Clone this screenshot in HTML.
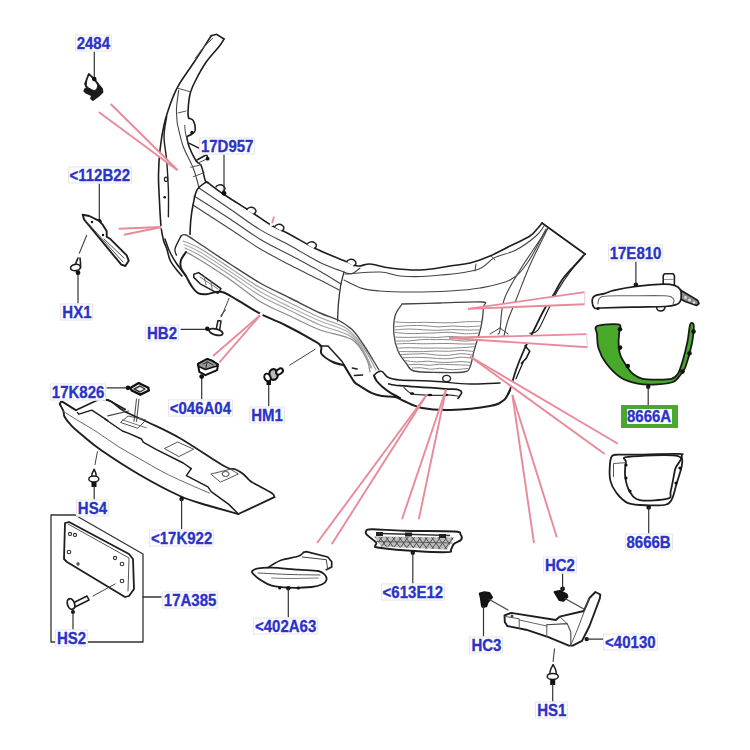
<!DOCTYPE html>
<html><head><meta charset="utf-8"><style>
html,body{margin:0;padding:0;background:#fff;width:750px;height:750px;overflow:hidden}
svg{position:absolute;left:0;top:0}
.lb,.lb2{position:absolute;font:bold 15px/15px "Liberation Sans",sans-serif;color:#2a33c6;white-space:nowrap;letter-spacing:0;transform:scaleY(1.07);-webkit-text-stroke:0.3px #2a33c6}
.lb{padding:1px 1px 0px 1px;line-height:13px;border:1px solid #e6e6ee;background:#fdfdff}
.gbox{position:absolute;left:621px;top:405.4px;width:45px;height:14.4px;border:solid #4aa82c;border-width:4px 6px;background:#fff}
</style></head><body>
<svg width="750" height="750" viewBox="0 0 750 750">
<path d="M211.3,35.7 C208.4,40.1 199.6,53.9 194.0,62.3 C188.4,70.7 182.0,79.2 178.0,86.3 C174.0,93.4 172.3,98.5 170.0,105.0 C167.7,111.5 165.7,117.5 164.0,125.0 C162.3,132.5 160.9,141.7 160.0,150.0 C159.1,158.3 158.6,166.0 158.5,175.0 C158.4,184.0 159.2,195.2 159.6,204.0 C160.0,212.8 160.5,221.9 161.2,228.0 C161.9,234.1 162.7,237.3 163.6,240.8 C164.5,244.3 165.7,245.6 166.8,248.8 C167.9,252.0 168.4,256.5 170.0,260.0 C171.6,263.5 174.4,266.9 176.4,269.6 C178.4,272.3 181.1,274.9 182.0,276.0" fill="none" stroke="#1e1e1e" stroke-width="1.6" stroke-linejoin="round" stroke-linecap="round"/>
<path d="M211.3,35.7 L216.7,34.3 L224.0,39.0" fill="none" stroke="#1e1e1e" stroke-width="1.6" stroke-linejoin="round" stroke-linecap="round"/>
<path d="M224.0,39.0 C223.2,40.2 222.3,42.4 219.3,46.3 C216.3,50.2 210.0,56.5 206.0,62.3 C202.0,68.1 198.0,75.7 195.3,81.0 C192.6,86.3 191.2,89.2 190.0,94.3 C188.8,99.4 188.2,107.7 188.0,111.7 C187.8,115.7 188.6,117.2 188.7,118.3" fill="none" stroke="#1e1e1e" stroke-width="1.6" stroke-linejoin="round" stroke-linecap="round"/>
<path d="M212.7,38.3 C211.1,39.9 205.9,44.7 203.0,48.0 C200.1,51.3 196.6,56.6 195.3,58.3" fill="none" stroke="#555" stroke-width="1.0" stroke-linejoin="round" stroke-linecap="round"/>
<path d="M178.7,90.3 C178.3,93.2 176.8,103.0 176.5,108.0 C176.2,113.0 176.8,116.9 177.0,120.0 C177.2,123.1 176.9,122.2 178.0,126.7 C179.1,131.2 180.9,140.0 183.3,146.7 C185.8,153.4 190.4,161.1 192.7,166.7 C195.0,172.2 195.9,176.4 197.0,180.0 C198.1,183.6 198.7,186.7 199.0,188.0" fill="none" stroke="#444" stroke-width="1.1" stroke-linejoin="round" stroke-linecap="round"/>
<path d="M178.0,88.3 L190.0,91.7" fill="none" stroke="#555" stroke-width="1.0" stroke-linejoin="round" stroke-linecap="round"/>
<path d="M178.0,113.0 L186.0,111.0" fill="none" stroke="#555" stroke-width="1.0" stroke-linejoin="round" stroke-linecap="round"/>
<path d="M188.7,118.3 C189.5,118.7 192.2,118.8 193.3,120.7 C194.4,122.7 195.5,127.8 195.3,130.0 C195.1,132.2 193.4,132.9 192.0,134.0 C190.6,135.1 187.6,136.2 186.7,136.7" fill="none" stroke="#1e1e1e" stroke-width="1.6" stroke-linejoin="round" stroke-linecap="round"/>
<path d="M186.7,136.7 C187.1,138.5 187.8,143.3 189.3,147.3 C190.9,151.3 194.0,157.6 196.0,160.7 C198.0,163.8 199.8,162.7 201.3,166.0 C202.9,169.3 204.2,177.9 205.3,180.7 C206.4,183.5 207.6,182.4 208.0,182.7" fill="none" stroke="#1e1e1e" stroke-width="1.6" stroke-linejoin="round" stroke-linecap="round"/>
<path d="M189.3,143.3 L200.0,148.7" fill="none" stroke="#1e1e1e" stroke-width="1.4" stroke-linejoin="round" stroke-linecap="round"/>
<path d="M197.0,160.0 L206.7,154.5 L208.0,159.3" fill="none" stroke="#1e1e1e" stroke-width="1.5" stroke-linejoin="round" stroke-linecap="round"/>
<path d="M198.0,163.0 L207.6,158.7" fill="none" stroke="#555" stroke-width="1.0" stroke-linejoin="round" stroke-linecap="round"/>
<circle cx="207.6" cy="158.7" r="1.9" fill="#111"/>
<path d="M184.7,125.3 C184.8,126.6 185.1,130.6 185.5,133.0 C185.9,135.4 187.0,138.8 187.3,140.0" fill="none" stroke="#444" stroke-width="1.0" stroke-linejoin="round" stroke-linecap="round"/>
<circle cx="192" cy="132.5" r="1.7" fill="#111"/>
<path d="M190.7,167.3 L201.3,164.7" fill="none" stroke="#555" stroke-width="1.0" stroke-linejoin="round" stroke-linecap="round"/>
<path d="M193.3,176.7 L204.0,172.7" fill="none" stroke="#555" stroke-width="1.0" stroke-linejoin="round" stroke-linecap="round"/>
<path d="M166.7,116.7 C166.2,120.0 164.0,129.4 164.0,136.7 C164.0,144.0 166.0,151.8 166.7,160.7 C167.4,169.6 168.1,180.7 168.4,190.0 C168.7,199.3 168.4,212.3 168.4,216.8" fill="none" stroke="#1e1e1e" stroke-width="1.4" stroke-linejoin="round" stroke-linecap="round"/>
<ellipse cx="166" cy="179.3" rx="1.6" ry="2.2" fill="none" stroke="#222" stroke-width="1.2"/>
<circle cx="164.7" cy="197.3" r="1.3" fill="#111"/>
<path d="M208.0,182.7 C210.8,184.8 217.7,190.3 224.7,195.0 C231.7,199.7 242.4,206.1 250.0,211.0 C257.6,215.9 263.3,220.6 270.0,224.5 C276.7,228.4 282.4,230.5 290.0,234.5 C297.6,238.5 306.0,244.0 315.3,248.5 C324.6,253.0 338.9,258.6 346.0,261.5 C353.1,264.4 354.0,265.6 358.0,266.0 C362.0,266.4 364.7,263.7 370.0,264.0 C375.3,264.3 381.7,267.0 390.0,268.0 C398.3,269.0 410.0,270.3 420.0,270.0 C430.0,269.7 441.7,267.2 450.0,266.0 C458.3,264.8 463.3,264.7 470.0,263.0 C476.7,261.3 483.3,258.8 490.0,256.0 C496.7,253.2 503.3,249.3 510.0,246.0 C516.7,242.7 525.3,239.0 530.0,236.0 C534.7,233.0 536.0,230.2 538.0,228.0 C540.0,225.8 541.3,223.8 542.0,223.0" fill="none" stroke="#1e1e1e" stroke-width="1.6" stroke-linejoin="round" stroke-linecap="round"/>
<path d="M542.0,223.0 L585.0,254.0" fill="none" stroke="#1e1e1e" stroke-width="1.8" stroke-linejoin="round" stroke-linecap="round"/>
<path d="M585.0,254.0 C583.2,256.0 577.8,261.7 574.0,266.0 C570.2,270.3 565.3,275.3 562.0,280.0 C558.7,284.7 557.0,289.0 554.0,294.0 C551.0,299.0 547.3,304.0 544.0,310.0 C540.7,316.0 537.3,323.3 534.0,330.0 C530.7,336.7 527.0,343.3 524.0,350.0 C521.0,356.7 518.3,363.3 516.0,370.0 C513.7,376.7 511.3,386.0 510.0,390.0 C508.7,394.0 508.3,393.3 508.0,394.0" fill="none" stroke="#1e1e1e" stroke-width="1.8" stroke-linejoin="round" stroke-linecap="round"/>
<path d="M582.0,258.0 C580.0,260.3 574.0,266.7 570.0,272.0 C566.0,277.3 561.7,283.7 558.0,290.0 C554.3,296.3 551.3,303.3 548.0,310.0 C544.7,316.7 541.0,326.1 538.0,330.0 C535.0,333.9 531.2,332.7 529.8,333.2" fill="none" stroke="#1e1e1e" stroke-width="1.2" stroke-linejoin="round" stroke-linecap="round"/>
<path d="M525.0,345.8 L529.8,351.2 L526.2,358.4 L521.4,363.2" fill="none" stroke="#1e1e1e" stroke-width="1.6" stroke-linejoin="round" stroke-linecap="round"/>
<path d="M523.2,362.0 L516.0,378.8" fill="none" stroke="#1e1e1e" stroke-width="1.3" stroke-linejoin="round" stroke-linecap="round"/>
<path d="M215.5,187.5 C217.0,184.5 221.0,184.0 223.5,186.0 C226.0,188.0 225.0,190.5 222.5,191.5" fill="#fff" stroke="#1e1e1e" stroke-width="1.5"/>
<path d="M246.5,210.0 C248.0,207.0 252.0,206.5 254.5,208.5 C257.0,210.5 256.0,213.0 253.5,214.0" fill="#fff" stroke="#1e1e1e" stroke-width="1.5"/>
<path d="M274.5,227.0 C276.0,224.0 280.0,223.5 282.5,225.5 C285.0,227.5 284.0,230.0 281.5,231.0" fill="#fff" stroke="#1e1e1e" stroke-width="1.5"/>
<path d="M307.0,244.5 C308.5,241.5 312.5,241.0 315.0,243.0 C317.5,245.0 316.5,247.5 314.0,248.5" fill="#fff" stroke="#1e1e1e" stroke-width="1.5"/>
<path d="M346.5,262.0 C348.0,259.0 352.0,258.5 354.5,260.5 C357.0,262.5 356.0,265.0 353.5,266.0" fill="#fff" stroke="#1e1e1e" stroke-width="1.5"/>
<path d="M199.0,188.0 C204.2,191.5 219.8,202.1 230.0,209.0 C240.2,215.9 250.0,223.5 260.0,229.6 C270.0,235.7 280.0,240.0 290.0,245.5 C300.0,251.0 311.0,258.0 320.0,262.4 C329.0,266.8 338.7,270.1 344.0,272.0 C349.3,273.9 349.3,274.3 352.0,273.6 C354.7,272.9 358.7,268.9 360.0,268.0" fill="none" stroke="#444" stroke-width="1.1" stroke-linejoin="round" stroke-linecap="round"/>
<path d="M345.0,274.0 C350.8,273.7 370.8,271.7 380.0,272.0 C389.2,272.3 391.7,275.3 400.0,276.0 C408.3,276.7 417.3,277.0 430.0,276.0 C442.7,275.0 465.3,273.0 476.0,270.0 C486.7,267.0 487.3,261.3 494.0,258.0 C500.7,254.7 509.0,253.7 516.0,250.0 C523.0,246.3 531.3,240.0 536.0,236.0 C540.7,232.0 542.7,227.7 544.0,226.0" fill="none" stroke="#444" stroke-width="1.1" stroke-linejoin="round" stroke-linecap="round"/>
<path d="M194.0,196.0 C200.0,199.8 219.0,211.8 230.0,219.0 C241.0,226.2 250.0,233.2 260.0,239.2 C270.0,245.2 280.0,249.7 290.0,255.0 C300.0,260.3 311.5,266.4 320.0,271.2 C328.5,276.0 337.5,281.9 341.0,284.0" fill="none" stroke="#444" stroke-width="1.1" stroke-linejoin="round" stroke-linecap="round"/>
<path d="M344.0,280.0 C347.0,281.4 356.0,286.6 362.0,288.4 C368.0,290.2 372.0,290.4 380.0,291.0 C388.0,291.6 398.3,292.0 410.0,292.0 C421.7,292.0 438.3,291.7 450.0,291.0 C461.7,290.3 470.0,289.8 480.0,288.0 C490.0,286.2 502.0,284.3 510.0,280.0 C518.0,275.7 522.0,270.5 528.0,262.0 C534.0,253.5 543.0,234.5 546.0,229.0" fill="none" stroke="#444" stroke-width="1.1" stroke-linejoin="round" stroke-linecap="round"/>
<path d="M193.0,205.0 C199.2,209.0 218.8,221.7 230.0,229.0 C241.2,236.3 250.0,242.8 260.0,248.8 C270.0,254.8 280.0,259.8 290.0,265.0 C300.0,270.2 311.8,275.8 320.0,280.0 C328.2,284.2 335.8,288.3 339.0,290.0" fill="none" stroke="#444" stroke-width="1.1" stroke-linejoin="round" stroke-linecap="round"/>
<path d="M206.8,181.6 C205.2,182.9 199.5,185.9 197.2,189.6 C194.9,193.3 194.3,198.9 193.2,204.0 C192.1,209.1 191.3,214.9 190.8,220.0 C190.3,225.1 190.1,232.0 190.0,234.4" fill="none" stroke="#1e1e1e" stroke-width="1.6" stroke-linejoin="round" stroke-linecap="round"/>
<path d="M344.0,272.0 C343.5,274.1 341.7,279.5 340.8,284.8 C339.9,290.1 338.9,298.0 338.4,304.0 C337.9,310.0 337.7,318.2 337.6,321.0" fill="none" stroke="#333" stroke-width="1.3" stroke-linejoin="round" stroke-linecap="round"/>
<path d="M475.0,271.0 L476.0,264.0" fill="none" stroke="#444" stroke-width="1.0" stroke-linejoin="round" stroke-linecap="round"/>
<path d="M491.0,256.0 L495.0,260.0" fill="none" stroke="#444" stroke-width="1.0" stroke-linejoin="round" stroke-linecap="round"/>
<path d="M548.0,228.0 C543.3,235.0 527.3,258.0 520.0,270.0 C512.7,282.0 507.3,290.0 504.0,300.0 C500.7,310.0 501.0,324.3 500.0,330.0 C499.0,335.7 498.3,333.3 498.0,334.0" fill="none" stroke="#444" stroke-width="1.1" stroke-linejoin="round" stroke-linecap="round"/>
<path d="M548.0,228.0 C545.0,234.2 535.3,253.0 530.0,265.0 C524.7,277.0 519.7,290.8 516.0,300.0 C512.3,309.2 510.0,314.0 508.0,320.0 C506.0,326.0 504.7,333.3 504.0,336.0" fill="none" stroke="#444" stroke-width="1.1" stroke-linejoin="round" stroke-linecap="round"/>
<path d="M500.0,328.0 L490.0,334.0" fill="none" stroke="#444" stroke-width="1.0" stroke-linejoin="round" stroke-linecap="round"/>
<path d="M500.0,328.0 L508.0,334.0" fill="none" stroke="#444" stroke-width="1.0" stroke-linejoin="round" stroke-linecap="round"/>
<path d="M402.0,304.0 C408.3,303.8 426.7,303.3 440.0,303.0 C453.3,302.7 474.8,301.3 482.0,302.0 C489.2,302.7 483.7,302.8 483.5,307.0 C483.3,311.2 482.6,319.7 481.0,327.0 C479.4,334.3 475.8,344.3 474.0,351.0 C472.2,357.7 471.7,363.5 470.0,367.0 C468.3,370.5 469.0,371.1 464.0,372.0 C459.0,372.9 448.3,372.7 440.0,372.5 C431.7,372.3 419.7,372.6 414.0,371.0 C408.3,369.4 408.7,366.3 406.0,363.0 C403.3,359.7 400.0,355.7 398.0,351.0 C396.0,346.3 394.5,340.8 394.0,335.0 C393.5,329.2 393.7,321.2 395.0,316.0 C396.3,310.8 400.8,306.0 402.0,304.0" fill="none" stroke="#444" stroke-width="1.3" stroke-linejoin="round" stroke-linecap="round"/>
<path d="M395.6,322.0 C398.0,322.1 405.1,322.6 409.8,322.6 C414.5,322.7 419.2,322.3 423.9,322.3 C428.6,322.3 433.4,322.6 438.1,322.7 C442.8,322.8 447.5,322.9 452.2,322.7 C456.9,322.5 461.7,321.9 466.4,321.7 C471.1,321.5 478.1,321.6 480.5,321.6" fill="none" stroke="#8a8a8a" stroke-width="1.0" stroke-linejoin="round" stroke-linecap="round"/>
<path d="M395.4,326.7 C397.8,326.5 404.9,325.8 409.6,325.6 C414.3,325.4 419.1,325.4 423.8,325.6 C428.5,325.8 433.3,326.8 438.0,326.9 C442.7,327.0 447.4,326.0 452.1,326.0 C456.8,326.0 461.6,326.7 466.3,326.7 C471.0,326.7 478.1,326.1 480.5,326.0" fill="none" stroke="#8a8a8a" stroke-width="1.0" stroke-linejoin="round" stroke-linecap="round"/>
<path d="M395.3,329.9 C397.6,329.8 404.6,329.0 409.3,329.0 C414.0,329.0 418.7,329.6 423.4,329.8 C428.1,330.0 432.8,330.3 437.5,330.3 C442.2,330.3 446.9,329.7 451.6,329.6 C456.3,329.6 461.0,329.9 465.7,330.0 C470.4,330.1 477.4,329.9 479.7,329.9" fill="none" stroke="#8a8a8a" stroke-width="1.0" stroke-linejoin="round" stroke-linecap="round"/>
<path d="M395.1,332.4 C397.4,332.6 404.4,333.5 409.0,333.6 C413.6,333.8 418.4,333.4 423.0,333.3 C427.6,333.2 432.3,333.0 436.9,332.8 C441.5,332.6 446.1,332.1 450.8,332.3 C455.5,332.5 460.2,333.7 464.8,333.8 C469.4,333.9 476.4,333.2 478.7,333.1" fill="none" stroke="#8a8a8a" stroke-width="1.0" stroke-linejoin="round" stroke-linecap="round"/>
<path d="M394.9,337.1 C397.2,337.2 404.1,337.4 408.7,337.4 C413.3,337.4 417.9,337.1 422.5,337.1 C427.1,337.1 431.7,337.6 436.3,337.5 C440.9,337.4 445.5,336.6 450.1,336.5 C454.7,336.4 459.3,337.2 463.9,337.2 C468.5,337.2 475.4,336.7 477.7,336.6" fill="none" stroke="#8a8a8a" stroke-width="1.0" stroke-linejoin="round" stroke-linecap="round"/>
<path d="M395.8,341.0 C398.1,341.0 404.8,341.1 409.3,340.9 C413.8,340.6 418.3,339.7 422.8,339.5 C427.3,339.3 431.7,339.6 436.2,339.6 C440.7,339.6 445.2,339.4 449.7,339.7 C454.2,339.9 458.7,341.0 463.2,341.1 C467.7,341.2 474.4,340.3 476.7,340.1" fill="none" stroke="#8a8a8a" stroke-width="1.0" stroke-linejoin="round" stroke-linecap="round"/>
<path d="M396.7,344.0 C398.9,343.9 405.5,343.4 409.9,343.4 C414.3,343.4 418.6,343.8 423.0,343.8 C427.4,343.8 431.8,343.7 436.2,343.6 C440.6,343.6 444.9,343.4 449.3,343.5 C453.7,343.6 458.1,343.9 462.5,344.0 C466.9,344.1 473.4,344.0 475.6,344.0" fill="none" stroke="#8a8a8a" stroke-width="1.0" stroke-linejoin="round" stroke-linecap="round"/>
<path d="M397.6,348.1 C399.7,348.0 406.1,347.7 410.4,347.7 C414.7,347.7 419.0,348.1 423.3,348.1 C427.6,348.2 431.8,348.0 436.1,348.0 C440.4,348.0 444.6,348.2 448.9,348.2 C453.2,348.1 457.5,347.9 461.8,347.7 C466.1,347.4 472.5,346.9 474.6,346.7" fill="none" stroke="#8a8a8a" stroke-width="1.0" stroke-linejoin="round" stroke-linecap="round"/>
<path d="M398.5,351.5 C400.6,351.5 406.8,351.7 411.0,351.7 C415.2,351.7 419.3,351.7 423.5,351.6 C427.7,351.5 431.8,351.1 436.0,351.0 C440.2,350.9 444.3,351.4 448.5,351.3 C452.7,351.2 456.9,350.4 461.1,350.4 C465.3,350.4 471.5,351.3 473.6,351.5" fill="none" stroke="#8a8a8a" stroke-width="1.0" stroke-linejoin="round" stroke-linecap="round"/>
<path d="M400.8,354.6 C402.8,354.5 408.8,354.2 412.8,354.1 C416.8,354.0 420.8,353.5 424.8,353.7 C428.8,353.9 432.7,354.8 436.7,355.1 C440.7,355.4 444.7,355.5 448.7,355.3 C452.7,355.1 456.7,353.8 460.7,353.7 C464.7,353.6 470.6,354.8 472.6,355.0" fill="none" stroke="#8a8a8a" stroke-width="1.0" stroke-linejoin="round" stroke-linecap="round"/>
<path d="M403.2,357.8 C405.1,357.7 410.8,357.4 414.6,357.4 C418.4,357.4 422.2,357.4 426.0,357.6 C429.8,357.8 433.7,358.3 437.5,358.5 C441.3,358.7 445.1,358.9 448.9,358.7 C452.7,358.5 456.5,357.3 460.3,357.2 C464.1,357.1 469.9,358.0 471.8,358.2" fill="none" stroke="#8a8a8a" stroke-width="1.0" stroke-linejoin="round" stroke-linecap="round"/>
<path d="M405.6,360.7 C407.4,360.9 412.9,361.8 416.5,361.9 C420.1,362.0 423.7,361.1 427.3,361.2 C430.9,361.2 434.6,362.0 438.2,362.2 C441.8,362.4 445.5,362.5 449.1,362.4 C452.7,362.3 456.4,361.6 460.0,361.6 C463.6,361.6 469.1,362.3 470.9,362.4" fill="none" stroke="#8a8a8a" stroke-width="1.0" stroke-linejoin="round" stroke-linecap="round"/>
<path d="M408.6,364.8 C410.3,364.7 415.4,364.2 418.8,364.3 C422.2,364.4 425.7,365.3 429.1,365.3 C432.5,365.3 435.9,364.4 439.3,364.3 C442.7,364.2 446.1,364.5 449.5,364.6 C452.9,364.7 456.3,364.8 459.7,364.9 C463.1,365.0 468.3,365.2 470.0,365.3" fill="none" stroke="#8a8a8a" stroke-width="1.0" stroke-linejoin="round" stroke-linecap="round"/>
<path d="M412.1,368.0 C413.7,368.0 418.3,367.6 421.4,367.8 C424.5,368.0 427.5,369.2 430.6,369.3 C433.7,369.4 436.7,368.3 439.8,368.3 C442.9,368.3 446.0,369.3 449.1,369.5 C452.2,369.7 455.2,369.6 458.3,369.4 C461.4,369.2 466.0,368.6 467.5,368.4" fill="none" stroke="#8a8a8a" stroke-width="1.0" stroke-linejoin="round" stroke-linecap="round"/>
<path d="M181.0,236.0 C181.8,235.8 182.8,233.7 186.0,235.0 C189.2,236.3 192.7,239.2 200.0,244.0 C207.3,248.8 220.0,257.5 230.0,264.0 C240.0,270.5 250.0,277.3 260.0,283.0 C270.0,288.7 280.0,293.0 290.0,298.0 C300.0,303.0 312.0,309.3 320.0,313.0 C328.0,316.7 332.7,317.2 338.0,320.0 C343.3,322.8 347.8,325.6 352.0,329.6 C356.2,333.6 359.5,338.9 363.0,344.0 C366.5,349.1 370.3,355.7 373.0,360.0 C375.7,364.3 378.0,368.3 379.0,370.0" fill="none" stroke="#444" stroke-width="1.4" stroke-linejoin="round" stroke-linecap="round"/>
<path d="M183.0,241.0 C185.8,242.2 192.2,244.0 200.0,248.5 C207.8,253.0 220.0,261.5 230.0,268.0 C240.0,274.5 250.0,281.8 260.0,287.6 C270.0,293.4 280.0,298.0 290.0,303.0 C300.0,308.0 310.8,313.4 320.0,317.5 C329.2,321.6 338.7,323.8 345.0,327.5 C351.3,331.2 354.2,335.4 358.0,340.0 C361.8,344.6 365.0,350.0 368.0,355.0 C371.0,360.0 374.7,367.5 376.0,370.0" fill="none" stroke="#a0a0a0" stroke-width="1.2" stroke-linejoin="round" stroke-linecap="round"/>
<path d="M184.0,244.5 C186.7,245.8 192.3,247.5 200.0,252.0 C207.7,256.5 220.0,264.9 230.0,271.5 C240.0,278.1 250.0,285.6 260.0,291.5 C270.0,297.4 280.0,302.1 290.0,307.0 C300.0,311.9 310.3,316.8 320.0,321.0 C329.7,325.2 341.0,327.5 348.0,332.0 C355.0,336.5 358.0,342.0 362.0,348.0 C366.0,354.0 370.3,364.7 372.0,368.0" fill="none" stroke="#b0b0b0" stroke-width="1.2" stroke-linejoin="round" stroke-linecap="round"/>
<path d="M185.0,248.0 C187.5,249.2 192.5,251.0 200.0,255.5 C207.5,260.0 220.0,268.3 230.0,275.0 C240.0,281.7 250.0,289.6 260.0,295.5 C270.0,301.4 280.0,305.6 290.0,310.5 C300.0,315.4 310.0,320.8 320.0,325.0 C330.0,329.2 342.7,331.5 350.0,336.0 C357.3,340.5 360.5,346.7 364.0,352.0 C367.5,357.3 369.8,365.3 371.0,368.0" fill="none" stroke="#a0a0a0" stroke-width="1.2" stroke-linejoin="round" stroke-linecap="round"/>
<path d="M186.0,252.0 C188.3,253.3 192.7,255.4 200.0,260.0 C207.3,264.6 220.0,272.6 230.0,279.5 C240.0,286.4 250.0,295.3 260.0,301.4 C270.0,307.5 280.0,311.2 290.0,316.0 C300.0,320.8 309.7,326.1 320.0,330.0 C330.3,333.9 344.3,334.8 352.0,339.6 C359.7,344.4 363.4,353.4 366.4,358.8 C369.4,364.2 369.4,369.8 370.0,372.0" fill="none" stroke="#8a8a8a" stroke-width="1.2" stroke-linejoin="round" stroke-linecap="round"/>
<path d="M181.0,236.0 C180.0,238.1 175.8,245.6 175.0,248.8 C174.2,252.0 176.2,254.1 176.4,255.2" fill="none" stroke="#1e1e1e" stroke-width="1.3" stroke-linejoin="round" stroke-linecap="round"/>
<path d="M186.0,252.0 C185.2,253.3 181.8,257.3 181.0,260.0 C180.2,262.7 180.2,265.4 181.0,268.0 C181.8,270.6 183.9,272.6 185.8,275.8 C187.7,279.0 190.1,284.1 192.2,287.0 C194.3,289.9 196.2,292.2 198.6,293.4 C201.0,294.6 202.9,294.5 206.6,294.2 C210.3,293.9 215.9,290.9 221.0,291.8 C226.1,292.7 230.3,296.1 237.0,299.8 C243.7,303.5 253.0,310.0 261.0,314.2 C269.0,318.4 276.5,320.8 285.0,325.0 C293.5,329.2 306.0,336.1 312.0,339.6 C318.0,343.1 319.4,343.6 321.0,346.0 C322.6,348.4 319.6,351.3 321.6,354.0 C323.6,356.7 329.1,360.1 332.8,362.0 C336.5,363.9 342.1,364.7 344.0,365.2" fill="none" stroke="#1e1e1e" stroke-width="2.0" stroke-linejoin="round" stroke-linecap="round"/>
<path d="M344.0,365.2 C344.9,366.8 347.9,371.7 349.6,374.5 C351.3,377.3 352.9,380.3 354.3,382.0 C355.7,383.7 355.1,382.9 358.0,384.8 C360.9,386.7 367.9,391.3 372.0,393.2 C376.1,395.1 378.4,395.4 382.3,396.0 C386.2,396.6 391.8,396.2 395.4,397.0 C399.0,397.8 399.6,399.2 404.0,401.0 C408.4,402.8 414.3,406.5 422.0,408.0 C429.7,409.5 438.7,410.3 450.0,410.0 C461.3,409.7 481.0,407.7 490.0,406.0 C499.0,404.3 500.7,402.7 504.0,400.0 C507.3,397.3 509.0,391.7 510.0,390.0" fill="none" stroke="#1e1e1e" stroke-width="2.0" stroke-linejoin="round" stroke-linecap="round"/>
<path d="M165.0,239.0 C165.8,241.1 167.9,247.8 169.8,251.8 C171.7,255.8 173.5,259.0 176.2,263.0 C178.9,267.0 184.2,273.7 185.8,275.8" fill="none" stroke="#1e1e1e" stroke-width="1.5" stroke-linejoin="round" stroke-linecap="round"/>
<path d="M320.0,346.0 L328.0,346.0 L342.1,361.5 L349.6,374.5" fill="none" stroke="#1e1e1e" stroke-width="1.5" stroke-linejoin="round" stroke-linecap="round"/>
<path d="M373.9,375.5 C374.4,376.4 375.3,379.1 376.7,381.0 C378.1,382.9 380.1,384.8 382.3,386.7 C384.5,388.6 386.9,390.4 389.8,392.3 C392.8,394.2 398.3,397.0 400.0,397.9" fill="none" stroke="#1e1e1e" stroke-width="2.0" stroke-linejoin="round" stroke-linecap="round"/>
<path d="M373.9,375.5 C374.5,374.9 376.2,372.8 377.6,372.2 C379.0,371.6 380.6,370.8 382.3,371.7 C384.0,372.6 384.9,375.9 387.9,377.3 C390.8,378.7 393.0,379.5 400.0,380.1 C407.0,380.7 418.3,380.4 430.0,381.0 C441.7,381.6 458.3,383.7 470.0,384.0 C481.7,384.3 495.0,383.2 500.0,383.0" fill="none" stroke="#1e1e1e" stroke-width="1.5" stroke-linejoin="round" stroke-linecap="round"/>
<path d="M388.8,383.9 C390.7,384.2 390.7,384.9 400.0,385.7 C409.3,386.5 435.3,388.2 444.8,388.8 C454.3,389.4 454.0,388.8 456.8,389.4 C459.6,390.0 461.4,390.9 461.6,392.4 C461.8,393.9 458.6,397.4 458.0,398.4" fill="none" stroke="#1e1e1e" stroke-width="1.7" stroke-linejoin="round" stroke-linecap="round"/>
<path d="M404.0,387.6 C405.2,388.6 408.2,392.4 411.2,393.6 C414.2,394.8 417.2,394.5 422.0,394.8 C426.8,395.1 435.8,395.4 440.0,395.4 C444.2,395.4 444.2,394.7 447.2,394.8 C450.2,394.9 456.2,395.8 458.0,396.0" fill="none" stroke="#333" stroke-width="1.2" stroke-linejoin="round" stroke-linecap="round"/>
<ellipse cx="412" cy="393.5" rx="2.2" ry="1.3" fill="#111"/>
<ellipse cx="430" cy="395" rx="2.2" ry="1.3" fill="#111"/>
<ellipse cx="446" cy="395" rx="2.2" ry="1.3" fill="#111"/>
<path d="M352.4,368.0 L357.0,369.0" fill="none" stroke="#1e1e1e" stroke-width="1.6" stroke-linejoin="round" stroke-linecap="round"/>
<path d="M354.3,375.5 L362.7,375.0" fill="none" stroke="#1e1e1e" stroke-width="1.3" stroke-linejoin="round" stroke-linecap="round"/>
<ellipse cx="446.6" cy="378.6" rx="4" ry="3.2" fill="none" stroke="#222" stroke-width="1.4"/>
<path d="M193.8,274.2 L198.6,272.6 L221.0,288.6 L217.8,293.4 L200.2,283.8 L193.8,277.4 Z" fill="none" stroke="#1e1e1e" stroke-width="1.5" stroke-linejoin="round" stroke-linecap="round"/>
<path d="M200.0,277.0 L218.0,289.0" fill="none" stroke="#666" stroke-width="0.9" stroke-linejoin="round" stroke-linecap="round"/>
<path d="M204.0,276.0 L206.0,285.0" fill="none" stroke="#666" stroke-width="0.9" stroke-linejoin="round" stroke-linecap="round"/>
<path d="M211.0,281.0 L212.0,289.0" fill="none" stroke="#666" stroke-width="0.9" stroke-linejoin="round" stroke-linecap="round"/>
<path d="M229.0,298.4 L221.6,316.5" fill="none" stroke="#444" stroke-width="1.0" stroke-linejoin="round" stroke-linecap="round"/>
<path d="M289.6,365.2 L315.2,349.2" fill="none" stroke="#444" stroke-width="1.0" stroke-linejoin="round" stroke-linecap="round"/>
<path d="M94.3,50.0 L94.3,79.0" fill="none" stroke="#333" stroke-width="1.2" stroke-linejoin="round" stroke-linecap="round"/>
<path d="M224.0,151.0 L224.0,193.3" fill="none" stroke="#333" stroke-width="1.2" stroke-linejoin="round" stroke-linecap="round"/>
<circle cx="224" cy="193.3" r="2.4" fill="#111"/>
<path d="M99.3,181.0 L99.3,221.3" fill="none" stroke="#333" stroke-width="1.2" stroke-linejoin="round" stroke-linecap="round"/>
<circle cx="99.3" cy="221.3" r="2.4" fill="#111"/>
<path d="M78.0,272.7 L78.0,305.0" fill="none" stroke="#333" stroke-width="1.2" stroke-linejoin="round" stroke-linecap="round"/>
<circle cx="78" cy="272.7" r="2.4" fill="#111"/>
<path d="M181.0,329.3 L211.0,329.3" fill="none" stroke="#333" stroke-width="1.2" stroke-linejoin="round" stroke-linecap="round"/>
<path d="M201.7,376.6 L201.7,399.0" fill="none" stroke="#333" stroke-width="1.2" stroke-linejoin="round" stroke-linecap="round"/>
<circle cx="201.7" cy="376.6" r="2.4" fill="#111"/>
<path d="M268.7,383.0 L268.7,406.0" fill="none" stroke="#333" stroke-width="1.2" stroke-linejoin="round" stroke-linecap="round"/>
<path d="M88.7,74.0 L94.3,79.0 L98.7,84.7 L102.0,88.7 L102.5,92.0 L99.0,95.5 L93.0,100.0 L91.0,98.5 L92.0,95.5 L86.5,93.0 L84.3,91.0 L85.0,89.0 L87.0,88.5 L85.0,84.0 Z" fill="#1a1a1a" stroke="#1e1e1e" stroke-width="1.8" stroke-linejoin="round" stroke-linecap="round"/>
<path d="M88.9,75.5 C90.2,74.8 92.3,78.4 93.8,80.0 C95.2,81.6 97.4,83.5 97.6,85.3 C97.8,87.0 96.5,90.1 95.0,90.5 C93.5,90.9 90.0,88.9 88.5,87.8 C87.0,86.7 86.2,86.0 86.3,84.0 C86.4,82.0 87.7,76.2 88.9,75.5 Z" fill="#fff" stroke="#1a1a1a" stroke-width="1.0" stroke-linejoin="round" stroke-linecap="round"/>
<circle cx="94.3" cy="79" r="2.3" fill="#111"/>
<path d="M82.7,214.7 L89.3,216.0 L98.7,220.7 L102.7,224.7 L106.7,231.3 L106.7,236.7 L110.7,239.3 L126.7,255.3 L128.7,260.7 L125.3,266.0 L121.3,264.7 L84.0,219.3 Z" fill="#fff" stroke="#1e1e1e" stroke-width="1.9" stroke-linejoin="round" stroke-linecap="round"/>
<path d="M86.0,221.0 L123.0,262.0" fill="none" stroke="#555" stroke-width="1.0" stroke-linejoin="round" stroke-linecap="round"/>
<path d="M104.0,239.0 L124.0,258.0" fill="none" stroke="#555" stroke-width="1.0" stroke-linejoin="round" stroke-linecap="round"/>
<circle cx="92" cy="222" r="1.2" fill="#111"/>
<circle cx="103" cy="235" r="1.2" fill="#111"/>
<path d="M86.7,235.3 L79.3,253.3" fill="none" stroke="#444" stroke-width="1.1" stroke-linejoin="round" stroke-linecap="round"/>
<path d="M78.0,258.0 C77.7,258.8 76.4,261.3 76.0,263.0 C75.6,264.7 75.6,267.2 75.5,268.0" fill="none" stroke="#1e1e1e" stroke-width="1.6" stroke-linejoin="round" stroke-linecap="round"/>
<path d="M80.0,258.0 C80.1,258.8 80.4,261.3 80.5,263.0 C80.6,264.7 80.5,267.2 80.5,268.0" fill="none" stroke="#1e1e1e" stroke-width="1.6" stroke-linejoin="round" stroke-linecap="round"/>
<ellipse cx="75.5" cy="267.5" rx="5" ry="3.2" fill="#fff" stroke="#1e1e1e" stroke-width="1.6" transform="rotate(-10 75.5 267.5)"/>
<path d="M225.3,310.0 L220.7,316.0" fill="none" stroke="#444" stroke-width="1.1" stroke-linejoin="round" stroke-linecap="round"/>
<path d="M216.0,330.0 L218.0,320.5 L221.0,321.0 L219.5,331.0 Z" fill="#fff" stroke="#1e1e1e" stroke-width="1.5" stroke-linejoin="round" stroke-linecap="round"/>
<ellipse cx="216" cy="332" rx="7" ry="3" fill="#fff" stroke="#1e1e1e" stroke-width="1.8" transform="rotate(15 216 332)"/>
<circle cx="207.3" cy="328.7" r="2.2" fill="#111"/>
<path d="M207.3,358.9 L211.9,360.7 L218.0,364.5 L217.1,370.1 L205.4,375.2 L199.3,371.9 L197.9,364.0 Z" fill="#fff" stroke="#111" stroke-width="2.0" stroke-linejoin="round" stroke-linecap="round"/>
<path d="M207.3,358.9 L211.9,360.7 L218.0,364.5 L216.1,366.3 L205.4,369.6 L199.3,366.8 L197.9,364.0 Z" fill="#9a9a9a" stroke="#111" stroke-width="1.6" stroke-linejoin="round" stroke-linecap="round"/>
<path d="M203.0,364.0 L208.0,362.0 L213.0,365.0" fill="none" stroke="#333" stroke-width="1.0" stroke-linejoin="round" stroke-linecap="round"/>
<path d="M207.0,361.0 L206.0,368.0" fill="none" stroke="#333" stroke-width="1.0" stroke-linejoin="round" stroke-linecap="round"/>
<ellipse cx="273.5" cy="374.5" rx="4.3" ry="5.4" fill="#bbb" stroke="#111" stroke-width="2.2"/>
<ellipse cx="267.5" cy="377.5" rx="3" ry="4" fill="#fff" stroke="#111" stroke-width="2" transform="rotate(-25 267.5 377.5)"/>
<ellipse cx="279.5" cy="371.5" rx="3.8" ry="2.5" fill="#fff" stroke="#111" stroke-width="2" transform="rotate(-35 279.5 371.5)"/>
<rect x="266.5" y="380.5" width="4.5" height="4.5" fill="#111"/>
<path d="M107.0,387.8 L127.8,387.8" fill="none" stroke="#333" stroke-width="1.2" stroke-linejoin="round" stroke-linecap="round"/>
<circle cx="128" cy="387.8" r="2.4" fill="#111"/>
<path d="M130.7,387.8 L138.7,383.0 L148.3,387.8 L148.8,390.5 L140.3,394.7 L131.7,390.5 Z" fill="#fff" stroke="#111" stroke-width="2.4" stroke-linejoin="round" stroke-linecap="round"/>
<path d="M134.0,389.0 L140.0,386.0 L145.0,389.0 L140.0,392.0 Z" fill="#eee" stroke="#333" stroke-width="1.4" stroke-linejoin="round" stroke-linecap="round"/>
<path d="M136.5,399.0 L134.0,421.4" fill="none" stroke="#555" stroke-width="1.1" stroke-linejoin="round" stroke-linecap="round"/>
<path d="M139.0,399.0 L136.5,421.4" fill="none" stroke="#555" stroke-width="1.1" stroke-linejoin="round" stroke-linecap="round"/>
<path d="M59.8,403.9 C60.4,405.1 62.7,409.2 63.5,411.3 C64.3,413.4 63.3,414.4 64.6,416.7 C65.8,419.0 68.2,422.2 71.0,425.2 C73.8,428.2 76.7,430.7 81.7,434.8 C86.7,438.9 91.2,443.3 100.9,450.0 C110.6,456.7 126.8,467.3 140.0,475.0 C153.2,482.7 168.7,490.9 180.0,496.0 C191.3,501.1 198.3,502.5 208.0,505.5 C217.7,508.5 233.3,512.6 238.4,514.0" fill="none" stroke="#1e1e1e" stroke-width="1.9" stroke-linejoin="round" stroke-linecap="round"/>
<path d="M238.4,514.0 L274.4,497.2" fill="none" stroke="#1e1e1e" stroke-width="1.9" stroke-linejoin="round" stroke-linecap="round"/>
<path d="M59.8,404.6 C60.0,404.1 60.5,401.9 61.0,401.5 C61.5,401.1 60.5,400.8 63.0,402.2 C65.5,403.6 73.7,408.9 75.8,410.2" fill="none" stroke="#1e1e1e" stroke-width="1.9" stroke-linejoin="round" stroke-linecap="round"/>
<path d="M75.8,410.2 L99.8,399.0 L107.8,399.8 L125.4,409.4" fill="none" stroke="#1e1e1e" stroke-width="1.7" stroke-linejoin="round" stroke-linecap="round"/>
<path d="M103.2,399.8 C104.5,400.1 107.7,399.5 111.2,401.4 C114.7,403.3 117.9,407.5 124.0,411.0 C130.1,414.5 138.7,417.7 148.0,422.2 C157.3,426.7 167.3,430.9 180.0,438.2 C192.7,445.5 214.8,460.8 224.0,466.0 C233.2,471.2 232.0,467.9 235.2,469.2 C238.4,470.5 240.8,472.1 243.2,474.0 C245.6,475.9 247.7,478.8 249.6,480.4 C251.5,482.0 250.7,481.5 254.4,483.6 C258.1,485.7 268.7,490.9 272.0,493.2 C275.3,495.5 274.0,496.5 274.4,497.2" fill="none" stroke="#1e1e1e" stroke-width="1.7" stroke-linejoin="round" stroke-linecap="round"/>
<path d="M77.4,412.6 L79.0,414.2 L91.8,410.2 L107.8,420.6" fill="none" stroke="#1e1e1e" stroke-width="1.4" stroke-linejoin="round" stroke-linecap="round"/>
<path d="M104.8,419.0 L122.4,431.0 L128.8,433.4 L141.6,439.0 L143.2,442.2 L156.0,449.4 L183.2,463.0 L191.2,468.6" fill="none" stroke="#1e1e1e" stroke-width="1.5" stroke-linejoin="round" stroke-linecap="round"/>
<path d="M191.2,468.6 L186.4,475.6 L208.0,486.8 L211.2,491.6 L228.8,504.4 L238.4,514.0" fill="none" stroke="#1e1e1e" stroke-width="1.5" stroke-linejoin="round" stroke-linecap="round"/>
<path d="M107.8,415.8 L128.6,411.0" fill="none" stroke="#444" stroke-width="1.2" stroke-linejoin="round" stroke-linecap="round"/>
<path d="M63.5,411.3 C65.6,412.7 70.6,416.0 76.3,419.5 C82.0,423.0 90.6,427.9 97.7,432.5 C104.8,437.1 112.0,442.6 119.0,447.0 C126.0,451.4 132.7,454.8 140.0,459.0 C147.3,463.2 155.7,468.2 163.0,472.0 C170.3,475.8 176.2,478.5 184.0,482.0 C191.8,485.5 205.3,491.3 209.6,493.2" fill="none" stroke="#666" stroke-width="1.0" stroke-linejoin="round" stroke-linecap="round"/>
<path d="M122.2,419.8 L146.2,427.8" fill="none" stroke="#666" stroke-width="0.9" stroke-linejoin="round" stroke-linecap="round"/>
<path d="M120.8,422.2 L128.0,416.0 L146.0,420.0 L138.0,428.0 Z" fill="none" stroke="#555" stroke-width="1.0" stroke-linejoin="round" stroke-linecap="round"/>
<path d="M164.8,448.4 L177.6,442.0 L193.6,449.2 L179.2,456.4 Z" fill="none" stroke="#555" stroke-width="1.0" stroke-linejoin="round" stroke-linecap="round"/>
<path d="M211.2,474.0 L230.4,469.2 L238.4,474.0 L220.8,482.0 Z" fill="none" stroke="#555" stroke-width="1.0" stroke-linejoin="round" stroke-linecap="round"/>
<ellipse cx="225.6" cy="474" rx="3.5" ry="2.5" fill="none" stroke="#444" stroke-width="1"/>
<circle cx="181.6" cy="499" r="2.3" fill="#111"/>
<path d="M181.6,499.0 L181.6,530.0" fill="none" stroke="#333" stroke-width="1.2" stroke-linejoin="round" stroke-linecap="round"/>
<path d="M97.4,451.8 L95.0,464.6" fill="none" stroke="#444" stroke-width="1.0" stroke-linejoin="round" stroke-linecap="round"/>
<path d="M94.2,469.4 C93.8,470.2 92.4,472.4 92.0,474.0 C91.6,475.6 92.0,478.2 92.0,479.0" fill="none" stroke="#1e1e1e" stroke-width="1.5" stroke-linejoin="round" stroke-linecap="round"/>
<path d="M94.2,469.4 C94.5,470.2 95.7,472.4 96.0,474.0 C96.3,475.6 96.0,478.2 96.0,479.0" fill="none" stroke="#1e1e1e" stroke-width="1.5" stroke-linejoin="round" stroke-linecap="round"/>
<ellipse cx="93.8" cy="479" rx="5" ry="3" fill="#fff" stroke="#1e1e1e" stroke-width="1.5"/>
<rect x="91.5" y="482" width="5" height="5" fill="#111"/>
<path d="M94.2,486.0 L94.2,500.0" fill="none" stroke="#333" stroke-width="1.2" stroke-linejoin="round" stroke-linecap="round"/>
<path d="M51.0,515.0 L75.0,515.0 L143.0,554.0 L143.0,642.0 L51.0,642.0 L51.0,515.0" fill="none" stroke="#333" stroke-width="1.3" stroke-linejoin="round" stroke-linecap="round"/>
<path d="M143.0,597.0 L161.0,597.0" fill="none" stroke="#333" stroke-width="1.3" stroke-linejoin="round" stroke-linecap="round"/>
<path d="M65.0,523.0 L69.0,522.0 L129.0,554.0 L133.0,559.0 L134.0,589.0 L129.0,596.0 L125.0,597.0 L67.0,562.0 L64.0,559.0 Z" fill="#fff" stroke="#1e1e1e" stroke-width="1.8" stroke-linejoin="round" stroke-linecap="round"/>
<path d="M68.0,524.0 L129.0,558.0 L128.0,591.0" fill="none" stroke="#555" stroke-width="1.0" stroke-linejoin="round" stroke-linecap="round"/>
<circle cx="70" cy="534" r="1.6" fill="none" stroke="#333" stroke-width="1.1"/>
<circle cx="75" cy="535" r="1.6" fill="none" stroke="#333" stroke-width="1.1"/>
<circle cx="69" cy="552" r="1.8" fill="none" stroke="#333" stroke-width="1.1"/>
<circle cx="78" cy="564" r="1.1" fill="none" stroke="#333" stroke-width="1.1"/>
<circle cx="115" cy="558" r="1.6" fill="none" stroke="#333" stroke-width="1.1"/>
<circle cx="122" cy="564" r="1.8" fill="none" stroke="#333" stroke-width="1.1"/>
<circle cx="122" cy="581" r="1.8" fill="none" stroke="#333" stroke-width="1.1"/>
<path d="M93.0,596.0 L115.0,584.0" fill="none" stroke="#444" stroke-width="1.0" stroke-linejoin="round" stroke-linecap="round"/>
<path d="M73.0,603.0 L87.0,596.0 L89.0,600.0 L75.0,607.0 Z" fill="#fff" stroke="#1e1e1e" stroke-width="1.6" stroke-linejoin="round" stroke-linecap="round"/>
<ellipse cx="71" cy="604" rx="3.5" ry="5.5" fill="#fff" stroke="#1e1e1e" stroke-width="1.8" transform="rotate(-20 71 604)"/>
<circle cx="73" cy="612" r="2.0" fill="#111"/>
<path d="M73.0,612.0 L73.0,631.0" fill="none" stroke="#333" stroke-width="1.2" stroke-linejoin="round" stroke-linecap="round"/>
<path d="M252.3,571.0 C253.2,570.1 255.1,568.8 258.3,568.3 C261.5,567.8 265.0,567.5 271.7,567.7 C278.4,567.9 290.5,569.2 298.3,569.7 C306.1,570.2 313.9,570.1 318.3,571.0 C322.8,571.9 323.7,573.5 325.0,575.0 C326.3,576.5 326.8,578.8 326.3,580.3 C325.9,581.8 324.7,583.2 322.3,584.3 C319.9,585.4 317.2,586.4 311.7,587.0 C306.1,587.6 295.7,587.9 289.0,587.7 C282.3,587.5 276.4,586.9 271.7,585.7 C267.0,584.5 264.1,582.3 261.0,580.3 C257.9,578.3 254.4,575.2 253.0,573.7 C251.6,572.2 251.4,571.9 252.3,571.0 Z" fill="#fff" stroke="#1e1e1e" stroke-width="1.8" stroke-linejoin="round" stroke-linecap="round"/>
<path d="M267.7,567.7 C269.9,566.5 275.9,562.2 281.0,560.3 C286.1,558.4 294.5,557.6 298.3,556.3 C302.1,555.0 302.8,553.0 303.7,552.3" fill="none" stroke="#1e1e1e" stroke-width="1.6" stroke-linejoin="round" stroke-linecap="round"/>
<path d="M303.7,552.3 L306.3,551.7 L327.7,557.0 L331.7,561.7 L331.7,567.0 L326.3,569.7" fill="none" stroke="#1e1e1e" stroke-width="1.7" stroke-linejoin="round" stroke-linecap="round"/>
<path d="M302.3,557.0 L326.3,559.7 L327.7,569.7" fill="none" stroke="#444" stroke-width="1.0" stroke-linejoin="round" stroke-linecap="round"/>
<path d="M258.0,573.0 C263.3,573.2 279.7,574.2 290.0,574.5 C300.3,574.8 315.0,574.9 320.0,575.0" fill="none" stroke="#555" stroke-width="1.0" stroke-linejoin="round" stroke-linecap="round"/>
<path d="M271.7,578.0 C274.8,578.1 282.2,578.5 290.0,578.5 C297.8,578.5 313.6,578.1 318.3,578.0" fill="none" stroke="#666" stroke-width="0.9" stroke-linejoin="round" stroke-linecap="round"/>
<circle cx="288.3" cy="588.3" r="2.2" fill="#111"/>
<circle cx="279.7" cy="588" r="1.6" fill="#111"/>
<circle cx="298.3" cy="588" r="1.6" fill="#111"/>
<path d="M288.3,588.3 L288.3,619.0" fill="none" stroke="#333" stroke-width="1.2" stroke-linejoin="round" stroke-linecap="round"/>
<path d="M365.9,531.5 C366.6,530.5 365.3,529.4 371.7,529.3 C378.1,529.2 390.3,530.4 404.0,530.8 C417.7,531.2 444.5,530.9 453.9,531.5 C463.3,532.1 459.3,533.1 460.5,534.5 C461.7,535.9 462.3,538.0 461.2,539.6 C460.1,541.2 455.6,542.3 453.9,544.0 C452.2,545.7 451.9,548.5 450.9,549.9 C449.9,551.2 453.4,551.9 448.0,552.1 C442.6,552.3 430.2,552.0 418.7,551.3 C407.2,550.6 386.3,548.7 379.1,547.7 C371.9,546.7 375.9,546.4 375.4,545.5 C374.9,544.6 377.5,544.2 376.1,542.5 C374.8,540.8 369.0,537.0 367.3,535.2 C365.6,533.4 365.2,532.5 365.9,531.5 Z" fill="#fff" stroke="#1e1e1e" stroke-width="1.9" stroke-linejoin="round" stroke-linecap="round"/>
<clipPath id="c613"><path d="M374,536.5 L454,537.5 L447,549.5 L381,546.5 Z"/></clipPath>
<path d="M374,536.5 L454,537.5 L447,549.5 L381,546.5 Z" fill="#bdbdbd" stroke="none"/>
<path d="M380.5,533.5 L449.5,535.5" fill="none" stroke="#333" stroke-width="1.3" stroke-linejoin="round" stroke-linecap="round"/>
<g clip-path="url(#c613)">
<path d="M366.0,536.5 L376.0,550.0" fill="none" stroke="#444" stroke-width="0.9" stroke-linejoin="round" stroke-linecap="round"/>
<path d="M376.0,536.5 L366.0,550.0" fill="none" stroke="#444" stroke-width="0.9" stroke-linejoin="round" stroke-linecap="round"/>
<path d="M372.5,536.5 L382.5,550.0" fill="none" stroke="#444" stroke-width="0.9" stroke-linejoin="round" stroke-linecap="round"/>
<path d="M382.5,536.5 L372.5,550.0" fill="none" stroke="#444" stroke-width="0.9" stroke-linejoin="round" stroke-linecap="round"/>
<path d="M379.0,536.5 L389.0,550.0" fill="none" stroke="#444" stroke-width="0.9" stroke-linejoin="round" stroke-linecap="round"/>
<path d="M389.0,536.5 L379.0,550.0" fill="none" stroke="#444" stroke-width="0.9" stroke-linejoin="round" stroke-linecap="round"/>
<path d="M385.5,536.5 L395.5,550.0" fill="none" stroke="#444" stroke-width="0.9" stroke-linejoin="round" stroke-linecap="round"/>
<path d="M395.5,536.5 L385.5,550.0" fill="none" stroke="#444" stroke-width="0.9" stroke-linejoin="round" stroke-linecap="round"/>
<path d="M392.0,536.5 L402.0,550.0" fill="none" stroke="#444" stroke-width="0.9" stroke-linejoin="round" stroke-linecap="round"/>
<path d="M402.0,536.5 L392.0,550.0" fill="none" stroke="#444" stroke-width="0.9" stroke-linejoin="round" stroke-linecap="round"/>
<path d="M398.5,536.5 L408.5,550.0" fill="none" stroke="#444" stroke-width="0.9" stroke-linejoin="round" stroke-linecap="round"/>
<path d="M408.5,536.5 L398.5,550.0" fill="none" stroke="#444" stroke-width="0.9" stroke-linejoin="round" stroke-linecap="round"/>
<path d="M405.0,536.5 L415.0,550.0" fill="none" stroke="#444" stroke-width="0.9" stroke-linejoin="round" stroke-linecap="round"/>
<path d="M415.0,536.5 L405.0,550.0" fill="none" stroke="#444" stroke-width="0.9" stroke-linejoin="round" stroke-linecap="round"/>
<path d="M411.5,536.5 L421.5,550.0" fill="none" stroke="#444" stroke-width="0.9" stroke-linejoin="round" stroke-linecap="round"/>
<path d="M421.5,536.5 L411.5,550.0" fill="none" stroke="#444" stroke-width="0.9" stroke-linejoin="round" stroke-linecap="round"/>
<path d="M418.0,536.5 L428.0,550.0" fill="none" stroke="#444" stroke-width="0.9" stroke-linejoin="round" stroke-linecap="round"/>
<path d="M428.0,536.5 L418.0,550.0" fill="none" stroke="#444" stroke-width="0.9" stroke-linejoin="round" stroke-linecap="round"/>
<path d="M424.5,536.5 L434.5,550.0" fill="none" stroke="#444" stroke-width="0.9" stroke-linejoin="round" stroke-linecap="round"/>
<path d="M434.5,536.5 L424.5,550.0" fill="none" stroke="#444" stroke-width="0.9" stroke-linejoin="round" stroke-linecap="round"/>
<path d="M431.0,536.5 L441.0,550.0" fill="none" stroke="#444" stroke-width="0.9" stroke-linejoin="round" stroke-linecap="round"/>
<path d="M441.0,536.5 L431.0,550.0" fill="none" stroke="#444" stroke-width="0.9" stroke-linejoin="round" stroke-linecap="round"/>
<path d="M437.5,536.5 L447.5,550.0" fill="none" stroke="#444" stroke-width="0.9" stroke-linejoin="round" stroke-linecap="round"/>
<path d="M447.5,536.5 L437.5,550.0" fill="none" stroke="#444" stroke-width="0.9" stroke-linejoin="round" stroke-linecap="round"/>
<path d="M444.0,536.5 L454.0,550.0" fill="none" stroke="#444" stroke-width="0.9" stroke-linejoin="round" stroke-linecap="round"/>
<path d="M454.0,536.5 L444.0,550.0" fill="none" stroke="#444" stroke-width="0.9" stroke-linejoin="round" stroke-linecap="round"/>
<path d="M450.5,536.5 L460.5,550.0" fill="none" stroke="#444" stroke-width="0.9" stroke-linejoin="round" stroke-linecap="round"/>
<path d="M460.5,536.5 L450.5,550.0" fill="none" stroke="#444" stroke-width="0.9" stroke-linejoin="round" stroke-linecap="round"/>
</g>
<path d="M376.0,541.5 L452.0,543.0" fill="none" stroke="#555" stroke-width="0.9" stroke-linejoin="round" stroke-linecap="round"/>
<rect x="376" y="532" width="7" height="4" fill="#222"/>
<rect x="405" y="532.5" width="7" height="4" fill="#222"/>
<rect x="439" y="534" width="7" height="4" fill="#222"/>
<circle cx="412.8" cy="552.8" r="2.2" fill="#111"/>
<path d="M412.8,552.8 L412.8,585.0" fill="none" stroke="#333" stroke-width="1.2" stroke-linejoin="round" stroke-linecap="round"/>
<path d="M663.2,286.0 L663.2,275.5 L664.5,273.8 L673.0,273.8 L674.4,275.5 L674.4,286.0" fill="#fff" stroke="#1e1e1e" stroke-width="1.6" stroke-linejoin="round" stroke-linecap="round"/>
<path d="M664.5,279.5 L673.5,279.5" fill="none" stroke="#888" stroke-width="0.9" stroke-linejoin="round" stroke-linecap="round"/>
<path d="M656.5,307 A4,3.8 0 0 0 665,307" fill="#fff" stroke="#1e1e1e" stroke-width="1.6"/>
<path d="M680.4,290.0 L697.5,300.2 L699.0,303.5 L696.5,305.5 L685.2,301.5 L680.4,299.0 Z" fill="#8a8a8a" stroke="#1e1e1e" stroke-width="1.7" stroke-linejoin="round" stroke-linecap="round"/>
<circle cx="685.5" cy="297.5" r="1.4" fill="#ddd"/><circle cx="689.5" cy="300" r="1.5" fill="#ddd"/><circle cx="694" cy="302.5" r="1.2" fill="#ddd"/>
<path d="M592.2,300.8 C592.2,298.8 592.6,297.2 594.6,296.0 C596.6,294.8 601.0,294.5 604.2,293.6 C607.4,292.7 608.5,291.6 613.8,290.4 C619.1,289.2 628.0,287.4 636.2,286.4 C644.4,285.4 656.8,284.4 663.2,284.2 C669.6,284.0 671.5,284.5 674.4,285.4 C677.3,286.3 679.3,288.0 680.4,289.8 C681.5,291.6 681.2,294.1 681.2,296.0 C681.2,297.9 681.2,299.6 680.4,301.0 C679.6,302.4 679.1,303.6 676.5,304.5 C673.9,305.4 672.2,306.1 665.0,306.5 C657.8,306.9 643.7,306.9 633.0,307.2 C622.3,307.4 607.4,307.9 601.0,308.0 C594.6,308.1 596.1,309.2 594.6,308.0 C593.1,306.8 592.2,302.8 592.2,300.8 Z" fill="#fff" stroke="#1e1e1e" stroke-width="1.7" stroke-linejoin="round" stroke-linecap="round"/>
<path d="M597.8,304.0 C598.6,302.8 596.7,297.9 602.6,296.5 C608.5,295.1 622.6,295.9 633.0,295.8 C643.4,295.7 658.5,295.5 665.0,295.8 C671.5,296.1 670.5,296.7 672.0,297.5 C673.5,298.3 673.8,299.4 674.0,300.5 C674.2,301.6 673.2,303.4 673.0,304.0" fill="none" stroke="#666" stroke-width="1.1" stroke-linejoin="round" stroke-linecap="round"/>
<circle cx="635.9" cy="284.8" r="2.3" fill="#111"/>
<path d="M635.9,258.0 L635.9,284.8" fill="none" stroke="#333" stroke-width="1.2" stroke-linejoin="round" stroke-linecap="round"/>
<circle cx="598" cy="308.5" r="1.5" fill="#111"/>
<path d="M597.0,326.0 C600.6,324.4 614.9,323.6 618.6,324.4 C622.3,325.2 619.4,327.9 619.4,330.8 C619.4,333.7 618.5,338.0 618.6,342.0 C618.7,346.0 618.9,350.8 620.2,354.8 C621.5,358.8 624.5,362.8 626.6,366.0 C628.7,369.2 630.3,371.9 633.0,374.0 C635.7,376.1 638.6,377.9 642.6,378.8 C646.6,379.7 652.2,379.6 657.0,379.6 C661.8,379.6 667.9,379.7 671.4,378.8 C674.9,377.9 675.9,376.9 677.8,374.0 C679.7,371.1 681.0,366.5 682.6,361.2 C684.2,355.9 686.2,347.9 687.4,342.0 C688.6,336.1 689.1,329.2 689.8,326.0 C690.5,322.8 690.7,322.8 691.4,322.8 C692.1,322.8 693.7,322.8 693.8,326.0 C693.9,329.2 693.5,335.3 692.2,342.0 C690.9,348.7 687.7,360.7 685.8,366.0 C683.9,371.3 683.1,371.3 681.0,374.0 C678.9,376.7 677.0,380.3 673.0,382.0 C669.0,383.7 662.9,384.1 657.0,384.4 C651.1,384.7 643.9,384.8 637.8,383.6 C631.7,382.4 625.5,380.7 620.2,377.2 C614.9,373.7 609.4,367.6 605.8,362.8 C602.2,358.0 600.1,353.2 598.6,348.4 C597.1,343.6 597.3,337.7 597.0,334.0 C596.7,330.3 593.4,327.6 597.0,326.0 Z" fill="#47a82a" stroke="#1a1a1a" stroke-width="1.8" stroke-linejoin="round" stroke-linecap="round"/>
<circle cx="620" cy="329.2" r="2.3" fill="#111"/>
<circle cx="620" cy="347.6" r="2.3" fill="#111"/>
<circle cx="627.8" cy="366" r="2.3" fill="#111"/>
<circle cx="693.5" cy="331.6" r="2.3" fill="#111"/>
<circle cx="689.5" cy="353.2" r="2.3" fill="#111"/>
<circle cx="682.5" cy="371.6" r="2.3" fill="#111"/>
<circle cx="648.2" cy="386.8" r="2.2" fill="#111"/>
<path d="M648.2,386.8 L648.2,405.0" fill="none" stroke="#333" stroke-width="1.2" stroke-linejoin="round" stroke-linecap="round"/>
<path d="M612.0,456.1 C613.4,454.2 614.5,454.9 617.9,454.7 C621.3,454.5 622.5,454.8 632.5,454.7 C642.5,454.6 669.8,453.7 678.0,453.9 C686.2,454.1 681.1,454.0 681.7,456.1 C682.3,458.2 682.6,461.8 681.7,466.4 C680.8,471.0 678.1,478.6 676.5,484.0 C674.9,489.4 673.8,495.3 672.1,498.7 C670.4,502.1 670.2,503.4 666.3,504.5 C662.4,505.6 655.1,505.5 648.7,505.3 C642.3,505.1 633.5,505.2 628.1,503.1 C622.7,501.0 619.3,496.5 616.4,492.8 C613.5,489.1 611.6,485.5 610.5,481.1 C609.4,476.7 609.5,470.6 609.8,466.4 C610.0,462.2 610.6,458.1 612.0,456.1 Z" fill="#fff" stroke="#1e1e1e" stroke-width="1.8" stroke-linejoin="round" stroke-linecap="round"/>
<path d="M628.1,456.9 C636.8,455.9 670.2,454.0 678.0,456.1 C685.8,458.2 676.3,463.4 675.1,469.3 C673.9,475.2 671.9,486.4 670.7,491.3 C669.5,496.2 672.8,497.2 667.7,498.7 C662.6,500.2 646.2,501.3 639.9,500.1 C633.5,498.9 632.0,495.2 629.6,491.3 C627.2,487.4 625.8,481.6 625.2,476.7 C624.6,471.8 625.4,465.3 625.9,462.0 C626.4,458.7 619.4,457.9 628.1,456.9 Z" fill="none" stroke="#1e1e1e" stroke-width="1.8" stroke-linejoin="round" stroke-linecap="round"/>
<path d="M613.5,476.7 L613.5,463.5 L625.2,462.7" fill="none" stroke="#555" stroke-width="1.0" stroke-linejoin="round" stroke-linecap="round"/>
<circle cx="626" cy="465" r="1.6" fill="#111"/>
<circle cx="626" cy="478" r="1.6" fill="#111"/>
<circle cx="630" cy="491" r="1.6" fill="#111"/>
<circle cx="680" cy="468" r="1.6" fill="#111"/>
<circle cx="676" cy="483" r="1.6" fill="#111"/>
<circle cx="648.7" cy="507.5" r="2.3" fill="#111"/>
<path d="M648.7,507.5 L648.7,536.0" fill="none" stroke="#333" stroke-width="1.2" stroke-linejoin="round" stroke-linecap="round"/>
<path d="M504.5,615.5 L511.1,612.9 L555.9,620.0 L559.6,616.7 L583.9,611.0 L589.5,598.0 L595.4,592.0 L600.3,594.5 L599.8,598.5 L589.5,626.0 L582.0,640.9 L572.7,645.6 L568.9,645.6 L548.4,637.2 L526.0,629.7 L507.3,626.0 L504.8,622.0 Z" fill="#fff" stroke="#1e1e1e" stroke-width="1.9" stroke-linejoin="round" stroke-linecap="round"/>
<path d="M504.8,616.4 L519.2,618.8 L519.2,628.4" fill="none" stroke="#555" stroke-width="1.0" stroke-linejoin="round" stroke-linecap="round"/>
<path d="M519.2,620.0 L546.8,626.0" fill="none" stroke="#666" stroke-width="1.0" stroke-linejoin="round" stroke-linecap="round"/>
<path d="M546.8,624.8 L567.2,623.6 L570.8,632.0 L570.8,645.0" fill="none" stroke="#444" stroke-width="1.1" stroke-linejoin="round" stroke-linecap="round"/>
<path d="M546.8,624.8 L546.8,636.8" fill="none" stroke="#555" stroke-width="1.0" stroke-linejoin="round" stroke-linecap="round"/>
<path d="M559.6,616.7 L567.2,623.6" fill="none" stroke="#555" stroke-width="1.0" stroke-linejoin="round" stroke-linecap="round"/>
<path d="M589.5,598.0 C588.6,600.3 585.9,607.0 584.0,612.0 C582.1,617.0 580.2,622.5 578.0,628.0 C575.8,633.5 572.0,642.2 570.8,645.0" fill="none" stroke="#555" stroke-width="1.0" stroke-linejoin="round" stroke-linecap="round"/>
<circle cx="512" cy="616" r="1.5" fill="#444"/>
<circle cx="586.7" cy="639.1" r="2.2" fill="#111"/>
<path d="M586.7,639.1 L605.0,639.1" fill="none" stroke="#333" stroke-width="1.2" stroke-linejoin="round" stroke-linecap="round"/>
<path d="M479.8,593.5 L484.5,592.2 L489.4,593.0 L492.0,597.3 L487.8,602.0 L486.2,606.3 L481.9,605.3 L480.9,598.3 Z" fill="#151515" stroke="#111" stroke-width="2.0" stroke-linejoin="round" stroke-linecap="round"/>
<circle cx="483.5" cy="605.8" r="2.4" fill="#111"/>
<path d="M483.5,605.8 L483.5,638.0" fill="none" stroke="#333" stroke-width="1.2" stroke-linejoin="round" stroke-linecap="round"/>
<path d="M489.4,599.4 L508.0,610.0" fill="none" stroke="#444" stroke-width="1.2" stroke-linejoin="round" stroke-linecap="round"/>
<path d="M554.6,592.0 L560.0,591.0 L566.6,594.4 L567.4,596.8 L563.4,600.8 L559.4,600.0 Z" fill="#151515" stroke="#111" stroke-width="2.0" stroke-linejoin="round" stroke-linecap="round"/>
<circle cx="562.6" cy="588.8" r="2.4" fill="#111"/>
<path d="M562.6,571.0 L562.6,588.8" fill="none" stroke="#333" stroke-width="1.2" stroke-linejoin="round" stroke-linecap="round"/>
<path d="M565.0,598.4 L583.4,608.8" fill="none" stroke="#444" stroke-width="1.2" stroke-linejoin="round" stroke-linecap="round"/>
<path d="M554.5,648.9 L553.1,661.5" fill="none" stroke="#444" stroke-width="1.1" stroke-linejoin="round" stroke-linecap="round"/>
<path d="M553.1,664.7 C552.7,665.6 551.1,668.1 550.5,670.0 C549.9,671.9 549.7,675.0 549.5,676.0" fill="none" stroke="#1e1e1e" stroke-width="1.5" stroke-linejoin="round" stroke-linecap="round"/>
<path d="M553.1,664.7 C553.5,665.6 555.1,668.1 555.7,670.0 C556.3,671.9 556.4,675.0 556.5,676.0" fill="none" stroke="#1e1e1e" stroke-width="1.5" stroke-linejoin="round" stroke-linecap="round"/>
<ellipse cx="552.7" cy="676.4" rx="5.5" ry="3" fill="#fff" stroke="#1e1e1e" stroke-width="1.5"/>
<rect x="550.2" y="679.5" width="5" height="5.5" fill="#111"/>
<path d="M552.7,684.0 L552.7,703.0" fill="none" stroke="#333" stroke-width="1.2" stroke-linejoin="round" stroke-linecap="round"/>
<line x1="271.8" y1="224.5" x2="274" y2="216.5" stroke="#ea8f9c" stroke-width="1.8"/>
<circle cx="271.5" cy="224.5" r="1.6" fill="#fff"/>
<circle cx="261" cy="314.5" r="1.5" fill="#fff"/>
<circle cx="162.5" cy="227" r="1.5" fill="#fff"/>
<circle cx="178.5" cy="171" r="1.5" fill="#fff"/>
<path d="M178.5,171.0 L98.7,112.0 L110.7,104.0 Z" fill="#fff" stroke="none"/>
<line x1="178.5" y1="171" x2="98.7" y2="112" stroke="#e98a99" stroke-width="1.9"/>
<line x1="178.5" y1="171" x2="110.7" y2="104" stroke="#e98a99" stroke-width="1.9"/>
<path d="M162.0,227.0 L118.7,228.7 L124.0,234.7 Z" fill="#fff" stroke="none"/>
<line x1="162" y1="227" x2="118.7" y2="228.7" stroke="#e98a99" stroke-width="1.9"/>
<line x1="162" y1="227" x2="124" y2="234.7" stroke="#e98a99" stroke-width="1.9"/>
<path d="M261.0,314.4 L213.0,356.0 L219.4,362.3 Z" fill="#fff" stroke="none"/>
<line x1="261" y1="314.4" x2="213" y2="356" stroke="#e98a99" stroke-width="1.9"/>
<line x1="261" y1="314.4" x2="219.4" y2="362.3" stroke="#e98a99" stroke-width="1.9"/>
<path d="M468.0,308.9 L584.7,292.1 L584.7,304.3 Z" fill="#fff" stroke="none"/>
<line x1="468" y1="308.9" x2="584.7" y2="292.1" stroke="#e98a99" stroke-width="1.9"/>
<line x1="468" y1="308.9" x2="584.7" y2="304.3" stroke="#e98a99" stroke-width="1.9"/>
<line x1="584.7" y1="292.1" x2="584.7" y2="304.3" stroke="#f3c9cf" stroke-width="1"/>
<path d="M449.0,338.0 L586.6,334.1 L587.5,347.2 Z" fill="#fff" stroke="none"/>
<line x1="449" y1="338" x2="586.6" y2="334.1" stroke="#e98a99" stroke-width="1.9"/>
<line x1="449" y1="338" x2="587.5" y2="347.2" stroke="#e98a99" stroke-width="1.9"/>
<line x1="586.6" y1="334.1" x2="587.5" y2="347.2" stroke="#f3c9cf" stroke-width="1"/>
<path d="M470.0,356.5 L617.9,443.7 L604.7,453.9 Z" fill="#fff" stroke="none"/>
<line x1="470" y1="356.5" x2="617.9" y2="443.7" stroke="#e98a99" stroke-width="1.9"/>
<line x1="470" y1="356.5" x2="604.7" y2="453.9" stroke="#e98a99" stroke-width="1.9"/>
<path d="M426.5,395.0 L331.7,544.3 L317.0,543.0 Z" fill="#fff" stroke="none"/>
<line x1="426.5" y1="395" x2="331.7" y2="544.3" stroke="#e98a99" stroke-width="1.9"/>
<line x1="426.5" y1="395" x2="317" y2="543" stroke="#e98a99" stroke-width="1.9"/>
<path d="M446.0,389.5 L402.0,519.2 L418.8,519.2 Z" fill="#fff" stroke="none"/>
<line x1="446" y1="389.5" x2="402" y2="519.2" stroke="#e98a99" stroke-width="1.9"/>
<line x1="446" y1="389.5" x2="418.8" y2="519.2" stroke="#e98a99" stroke-width="1.9"/>
<path d="M512.4,395.0 L534.0,543.2 L556.8,537.2 Z" fill="#fff" stroke="none"/>
<line x1="512.4" y1="395" x2="534" y2="543.2" stroke="#e98a99" stroke-width="1.9"/>
<line x1="512.4" y1="395" x2="556.8" y2="537.2" stroke="#e98a99" stroke-width="1.9"/>
<circle cx="271.5" cy="224.5" r="1.6" fill="#fff"/>
<circle cx="261" cy="314.5" r="1.5" fill="#fff"/>
<circle cx="162.5" cy="227" r="1.5" fill="#fff"/>
<circle cx="178.5" cy="171" r="1.5" fill="#fff"/>
</svg>
<div class="lb" style="left:74.7px;top:34.6px">2484</div>
<div class="lb" style="left:198.9px;top:137.8px">17D957</div>
<div class="lb" style="left:67.5px;top:167.0px">&lt;112B22</div>
<div class="lb" style="left:60.3px;top:304.1px">HX1</div>
<div class="lb" style="left:145.0px;top:325.0px">HB2</div>
<div class="lb" style="left:49.8px;top:383.6px">17K826</div>
<div class="lb" style="left:167.7px;top:399.6px">&lt;046A04</div>
<div class="lb" style="left:249.2px;top:406.7px">HM1</div>
<div class="lb" style="left:75.8px;top:500.3px">HS4</div>
<div class="lb" style="left:149.0px;top:530.3px">&lt;17K922</div>
<div class="lb" style="left:161.8px;top:592.3px">17A385</div>
<div class="lb" style="left:55.0px;top:629.5px">HS2</div>
<div class="lb" style="left:253.0px;top:618.3px">&lt;402A63</div>
<div class="lb" style="left:380.6px;top:584.0px">&lt;613E12</div>
<div class="lb" style="left:624.5px;top:534.2px">8666B</div>
<div class="lb" style="left:542.9px;top:556.8px">HC2</div>
<div class="lb" style="left:469.4px;top:637.1px">HC3</div>
<div class="lb" style="left:603.1px;top:633.9px">&lt;40130</div>
<div class="lb" style="left:535.2px;top:701.9px">HS1</div>
<div class="lb" style="left:607.7px;top:244.8px">17E810</div>
<div class="gbox"></div><div class="lb2" style="left:627.0px;top:409.4px">8666A</div>
</body></html>
